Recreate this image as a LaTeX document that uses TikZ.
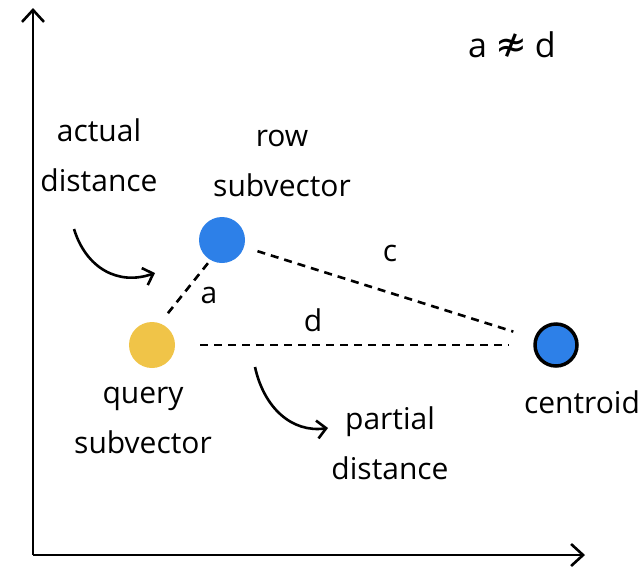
\documentclass[tikz,border=0pt]{standalone}
\usepackage{fontspec}
\setmainfont{Open Sans}
\newfontfamily\symbolfont{DejaVu Sans}
\usetikzlibrary{arrows.meta, positioning}

\definecolor{dotblue}{RGB}{45,128,232}
\definecolor{dotyellow}{RGB}{240,196,72}

\tikzset{
  labeltext/.style={font=\fontsize{30}{50}\selectfont, align=center, inner sep=0pt},
  dot/.style={circle, minimum size=46pt, inner sep=0pt},
  distline/.style={dash pattern=on 8pt off 6pt, line width=2.6pt},
  barb/.style={-{Straight Barb[length=9pt, width=18pt, line width=2.6pt]}, line width=2.6pt},
  axis/.style={-{Straight Barb[length=12pt, width=22pt, line width=2.6pt]}, line width=2.8pt}
}

\begin{document}
\begin{tikzpicture}[x=1pt, y=-1pt]
    \useasboundingbox (0,0) rectangle (644,568);

    % Achsen
    \coordinate (origin) at (33,555);
    \coordinate (ytop) at (33,8);
    \coordinate (xend) at (585,555);
    \draw[axis] (origin) -- (ytop);
    \draw[axis] (origin) -- (xend);

    % Punkte
    \node [dot, fill=dotblue] (row) at (222,240) {};
    \node [dot, fill=dotyellow] (query) at (152,345) {};
    \node [dot, fill=dotblue, draw=black, line width=3.5pt, minimum size=42pt] (centroid) at (556,345) {};

    % Abstaende
    \draw[distline, shorten <=4pt, shorten >=12pt] (row.240) -- (query.70);
    \draw[distline, shorten <=14pt, shorten >=22pt] (row) -- (centroid);
    \draw[distline, shorten <=25pt, shorten >=25pt] (query) -- (centroid);
    \node [labeltext] (alabel) at (209,295) {a};
    \node [labeltext] (clabel) at (390,253) {c};
    \node [labeltext] (dlabel) at (313,320) {d};

    % Beschriftungen
    \node [labeltext, font=\fontsize{34}{50}\selectfont] (neq) at (512,45) {a\hspace{8pt}{\symbolfont\fontsize{38}{50}\selectfont ≉}\hspace{8pt}d};
    \node [labeltext] (actual) at (99,155) {actual\\distance};
    \node [labeltext] (rowtext) at (282,163) {row\\subvector};
    \node [labeltext] (querytext) at (143,420) {query\\subvector};
    \node [labeltext] (partial) at (390,443) {partial\\distance};
    \node [labeltext] (centroidtext) at (582,402) {centroid};

    % Pfeile
    \coordinate (actualtail) at (74,229);
    \coordinate (actualhead) at (155,273);
    \draw[barb] (actualtail) .. controls (86,268) and (118,286) .. (actualhead);
    \coordinate (partialtail) at (255,367);
    \coordinate (partialhead) at (328,428);
    \draw[barb] (partialtail) .. controls (264,408) and (292,433) .. (partialhead);
\end{tikzpicture}
\end{document}
